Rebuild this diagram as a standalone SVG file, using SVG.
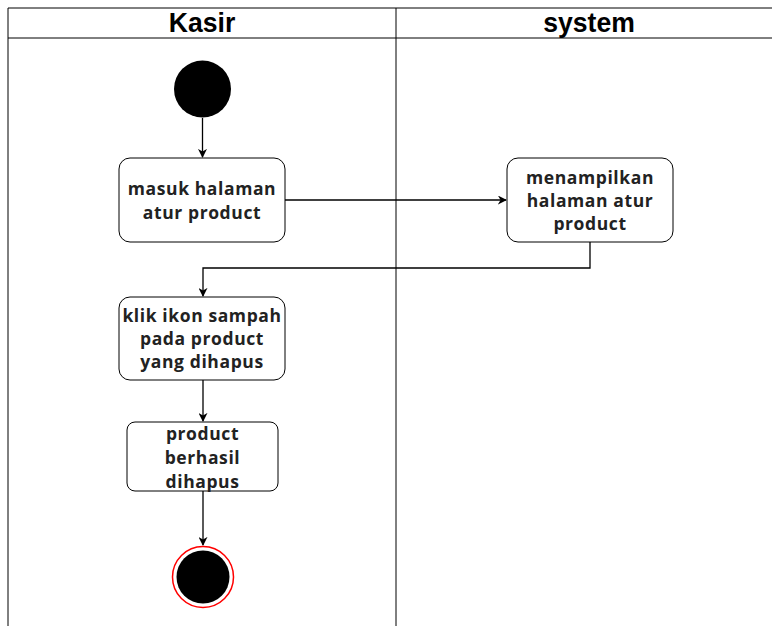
<svg xmlns="http://www.w3.org/2000/svg" width="772" height="626" viewBox="0 0 772 626">
<style>
.lane{fill:none;stroke:#000;stroke-width:1}
.hdr{font-family:"Liberation Sans",Arial,sans-serif;font-weight:bold;font-size:28px;text-anchor:middle}
.box{fill:#fff;stroke:#000;stroke-width:1}
.t{font-family:"Open Sans","Noto Sans",sans-serif;font-weight:bold;font-size:17.5px;letter-spacing:0.6px;text-anchor:middle;fill:#222}
.edge{fill:none;stroke:#000;stroke-width:1.3}
</style>
<defs>
<marker id="arr" viewBox="0 0 10 10" refX="9" refY="5" markerWidth="9" markerHeight="9" markerUnits="userSpaceOnUse" orient="auto">
<path d="M0,0 L10,5 L0,10 L3,5 Z" fill="#000"/>
</marker>
</defs>
<rect width="772" height="626" fill="#fff"/>
<g id="lanes">
<path class="lane" d="M8,626 V8 H780 M8,38 H780 M396,8 V626"/>
<text class="hdr" x="202" y="32" transform="translate(202 0) scale(0.95 1) translate(-202 0)">Kasir</text>
<text class="hdr" x="589" y="32" transform="translate(589 0) scale(0.95 1) translate(-589 0)">system</text>
</g>
<g id="connectors">
<path class="edge" d="M202.5,118 V157" marker-end="url(#arr)"/>
<path class="edge" d="M285,200 H506" marker-end="url(#arr)"/>
<path class="edge" d="M590,242 V268 H203 V296" marker-end="url(#arr)"/>
<path class="edge" d="M203,380 V421" marker-end="url(#arr)"/>
<path class="edge" d="M203,491 V545" marker-end="url(#arr)"/>
</g>
<g id="start"><circle cx="202.5" cy="89" r="28.5" fill="#000"/></g>
<g id="n1">
<rect class="box" x="119" y="158" width="166" height="84" rx="11"/>
<text class="t" x="202" y="195">masuk halaman</text>
<text class="t" x="202" y="219">atur product</text>
</g>
<g id="n2">
<rect class="box" x="507" y="158" width="166" height="84" rx="11"/>
<text class="t" x="590" y="184">menampilkan</text>
<text class="t" x="590" y="207">halaman atur</text>
<text class="t" x="590" y="230">product</text>
</g>
<g id="n3">
<rect class="box" x="119" y="297" width="166" height="83" rx="11"/>
<text class="t" x="202" y="322">klik ikon sampah</text>
<text class="t" x="202" y="345">pada product</text>
<text class="t" x="202" y="368">yang dihapus</text>
</g>
<g id="n4">
<rect class="box" x="127" y="422" width="151" height="69" rx="8"/>
<text class="t" x="202.5" y="440">product</text>
<text class="t" x="202.5" y="464">berhasil</text>
<text class="t" x="202.5" y="488">dihapus</text>
</g>
<g id="end">
<circle cx="203" cy="577" r="30.5" fill="#fff" stroke="#ff0000" stroke-width="1.5"/>
<circle cx="203" cy="577" r="26.5" fill="#000"/>
</g>
</svg>
